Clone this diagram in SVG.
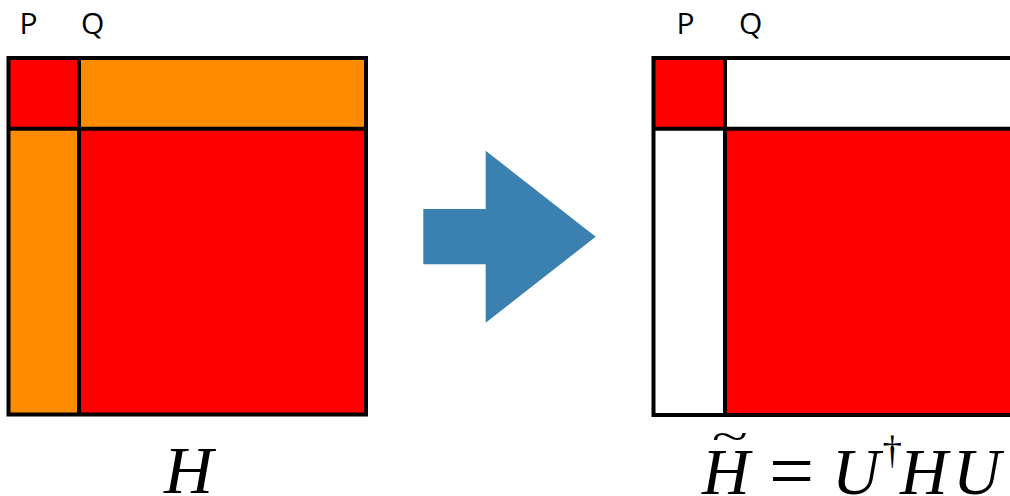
<svg xmlns="http://www.w3.org/2000/svg" width="1010" height="496" viewBox="0 0 1010 496">
<style>
.lbl{font-family:"Open Sans","Liberation Sans",sans-serif;font-size:30px;fill:#000}
.math{font-family:"Liberation Serif","DejaVu Serif",serif;font-style:italic;fill:#000}
.rm{font-family:"Liberation Serif","DejaVu Serif",serif;fill:#000}
.ln{stroke:#000;stroke-width:4;fill:none}
.red{fill:#FF0000}
.org{fill:#FF8C00}
.wht{fill:#FFFFFF}
</style>
<rect width="1010" height="496" fill="#fff"/>
<g id="matrixH">
<rect class="red" x="8.5" y="58" width="70.5" height="70.7"/>
<rect class="org" x="79" y="58" width="287" height="70.7"/>
<rect class="org" x="8.5" y="128.7" width="70.5" height="285.8"/>
<rect class="red" x="79" y="128.7" width="287" height="285.8"/>
<rect class="ln" x="8.5" y="58" width="357.5" height="356.5"/>
<line class="ln" x1="79" y1="58" x2="79" y2="414.5"/>
<line class="ln" x1="8.5" y1="128.7" x2="366" y2="128.7"/>
<text class="lbl" x="19.5" y="33.5">P</text>
<text class="lbl" x="81" y="33.5">Q</text>
<text class="math" x="164" y="492.5" font-size="68">H</text>
</g>
<g id="matrixHt">
<rect class="red" x="653.5" y="58" width="71.5" height="70.7"/>
<rect class="wht" x="725" y="58" width="300" height="70.7"/>
<rect class="wht" x="653.5" y="128.7" width="71.5" height="286.3"/>
<rect class="red" x="725" y="128.7" width="300" height="286.3"/>
<rect class="ln" x="653.5" y="58" width="371.5" height="357"/>
<line class="ln" x1="725" y1="58" x2="725" y2="415"/>
<line class="ln" x1="653.5" y1="128.7" x2="1025" y2="128.7"/>
<text class="lbl" x="676.5" y="33.5">P</text>
<text class="lbl" x="739" y="33.5">Q</text>
<text class="math" x="702" y="494" font-size="66">H</text>
<text class="rm" font-size="40" transform="translate(712,449.5) scale(1.65,1)">~</text>
<text class="rm" x="769" y="498" font-size="80">=</text>
<text class="math" x="832" y="494" font-size="66">U</text>
<text class="rm" x="882.5" y="463" font-size="39">†</text>
<text class="math" x="900" y="494" font-size="66">H</text>
<text class="math" x="953" y="494" font-size="66">U</text>
</g>
<g id="connectors">
<polygon fill="#3A81B2" points="423.3,209 485.7,209 485.7,150.7 595.7,236.7 485.7,322.7 485.7,264.3 423.3,264.3"/>
</g>
</svg>
